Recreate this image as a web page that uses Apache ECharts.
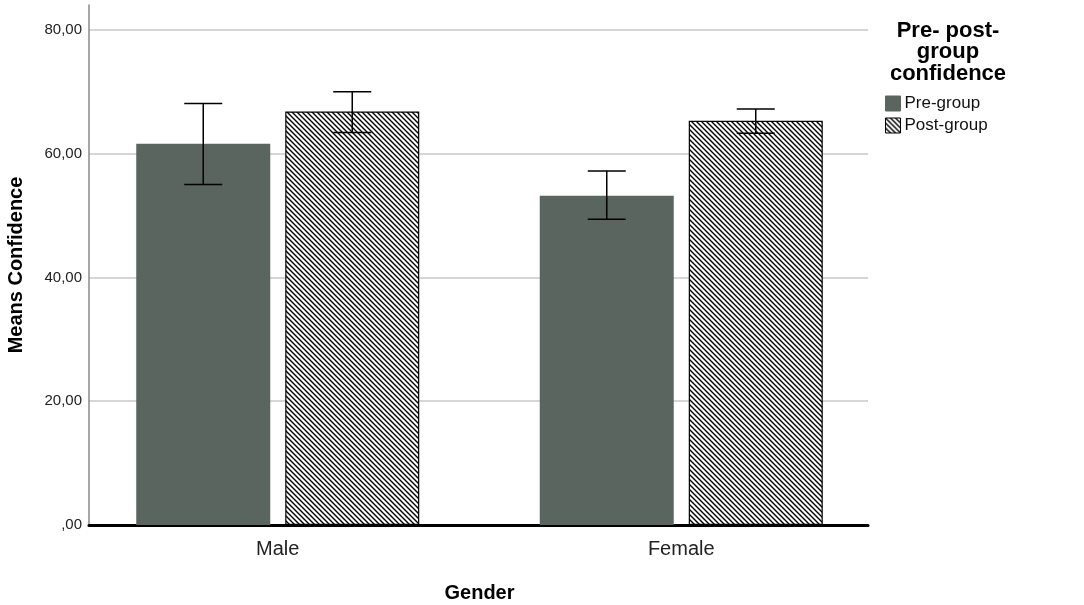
<!DOCTYPE html>
<html>
<head>
    <meta charset="utf-8">
    <title>Means Confidence by Gender</title>
    <script src="https://cdn.jsdelivr.net/npm/echarts@6/dist/echarts.min.js"></script>
    <style type="text/css">
        html, body { margin: 0; padding: 0; background: #fff; }
        #chart { width: 1084px; height: 605px; }
    </style>
</head>
<body>
    <div id="chart"></div>
    <script type="text/javascript">
        // data
        var categories = ['Male', 'Female'];
        var seriesNames = ['Pre-group', 'Post-group'];
        var preMeans = [61.6, 53.2];
        var postMeans = [66.8, 65.3];
        var preLow = [55.0, 49.4];
        var preHigh = [68.1, 57.2];
        var postLow = [63.4, 63.3];
        var postHigh = [70.0, 67.2];
        var yTicks = [0, 20, 40, 60, 80];

        var BAR_W = 134;
        var BAR_GAP = 15;

        // hatch fill (\\\) for the post-group bars
        function makeHatch() {
            var s = 5;
            var c = document.createElement('canvas');
            c.width = s; c.height = s;
            var ctx = c.getContext('2d');
            ctx.fillStyle = '#fff';
            ctx.fillRect(0, 0, s, s);
            ctx.strokeStyle = '#000';
            ctx.lineWidth = 1.4;
            ctx.beginPath();
            ctx.moveTo(-1, -1); ctx.lineTo(s + 1, s + 1);
            ctx.moveTo(s - 1, -1); ctx.lineTo(s + 1, 1);
            ctx.moveTo(-1, s - 1); ctx.lineTo(1, s + 1);
            ctx.stroke();
            return c;
        }
        var hatch = { image: makeHatch(), repeat: 'repeat' };

        function errorSeries(name, low, high, side) {
            var data = [];
            for (var i = 0; i < categories.length; i++) {
                data.push([i, low[i], high[i]]);
            }
            return {
                name: name + ' CI',
                type: 'custom',
                xAxisIndex: 1,
                yAxisIndex: 1,
                z: 10,
                silent: true,
                data: data,
                renderItem: function (params, api) {
                    var p1 = api.coord([api.value(0), api.value(1)]);
                    var p2 = api.coord([api.value(0), api.value(2)]);
                    var dx = side * (BAR_W + BAR_GAP) / 2;
                    var x = p1[0] + dx;
                    var cap = 19;
                    var st = { stroke: '#000', lineWidth: 1.5 };
                    return {
                        type: 'group',
                        children: [
                            { type: 'line', shape: { x1: x, y1: p1[1], x2: x, y2: p2[1] }, style: st },
                            { type: 'line', shape: { x1: x - cap, y1: p1[1], x2: x + cap, y2: p1[1] }, style: st },
                            { type: 'line', shape: { x1: x - cap, y1: p2[1], x2: x + cap, y2: p2[1] }, style: st }
                        ]
                    };
                }
            };
        }

        var chart = echarts.init(document.getElementById('chart'));

        var option = {
            animation: false,
            backgroundColor: '#fff',
            textStyle: { fontFamily: 'Arial, "Liberation Sans", sans-serif' },
            title: {
                text: 'Pre- post-\ngroup\nconfidence',
                left: 943,
                top: 15,
                textAlign: 'center',
                textStyle: {
                    fontSize: 22,
                    fontWeight: 'bold',
                    color: '#000',
                    lineHeight: 21.5,
                    align: 'center'
                }
            },
            legend: {
                orient: 'vertical',
                left: 880,
                top: 90,
                itemWidth: 15,
                itemHeight: 15,
                itemGap: 5,
                itemStyle: { borderWidth: 1 },
                icon: 'rect',
                data: seriesNames,
                textStyle: { fontSize: 17, color: '#111', padding: [0, 0, 0, -1] }
            },
            grid: [
                // axis frame
                { left: 89, right: 216, top: 5, bottom: 80, outerBoundsMode: 'none' },
                // bars, placed where the original puts the group centres
                { left: 76, right: 201, top: 5, bottom: 80, outerBoundsMode: 'none' }
            ],
            xAxis: [
                {
                    type: 'category',
                    gridIndex: 0,
                    data: categories,
                    axisLine: { lineStyle: { color: '#000', width: 3 } },
                    axisTick: { show: false },
                    axisLabel: { show: false }
                },
                {
                    type: 'category',
                    gridIndex: 1,
                    data: categories,
                    name: 'Gender',
                    nameLocation: 'middle',
                    nameGap: 58,
                    nameTextStyle: { fontSize: 20, fontWeight: 'bold', color: '#000' },
                    axisLine: { show: false },
                    axisTick: { show: false },
                    axisLabel: { fontSize: 20, color: '#222', margin: 14 }
                }
            ],
            yAxis: [
                {
                    type: 'value',
                    gridIndex: 0,
                    min: 0,
                    max: 84,
                    interval: 20,
                    name: 'Means Confidence',
                    nameLocation: 'middle',
                    nameGap: 63,
                    nameTextStyle: { fontSize: 20, fontWeight: 'bold', color: '#000' },
                    axisLine: { show: true, lineStyle: { color: '#888', width: 1.5 } },
                    axisTick: { show: false },
                    splitLine: {
                        show: true,
                        showMinLine: false,
                        showMaxLine: false,
                        lineStyle: { color: '#c8c8c8', width: 1.5 }
                    },
                    axisLabel: {
                        showMaxLabel: false,
                        fontSize: 15,
                        color: '#222',
                        margin: 7,
                        formatter: function (v) {
                            if (yTicks.indexOf(v) < 0) return '';
                            return v === 0 ? ',00' : v.toFixed(2).replace('.', ',');
                        }
                    }
                },
                {
                    type: 'value',
                    gridIndex: 1,
                    min: 0,
                    max: 84,
                    show: false
                }
            ],
            series: [
                {
                    name: seriesNames[0],
                    type: 'bar',
                    xAxisIndex: 1,
                    yAxisIndex: 1,
                    barWidth: BAR_W,
                    barGap: (BAR_GAP / BAR_W * 100).toFixed(1) + '%',
                    itemStyle: { color: '#5a655f', borderColor: '#5a655f', borderWidth: 0 },
                    data: preMeans
                },
                {
                    name: seriesNames[1],
                    type: 'bar',
                    xAxisIndex: 1,
                    yAxisIndex: 1,
                    barWidth: BAR_W,
                    itemStyle: { color: hatch, borderColor: '#000', borderWidth: 1.2 },
                    data: postMeans
                },
                errorSeries(seriesNames[0], preLow, preHigh, -1),
                errorSeries(seriesNames[1], postLow, postHigh, 1)
            ]
        };

        chart.setOption(option);
    </script>
</body>
</html>
